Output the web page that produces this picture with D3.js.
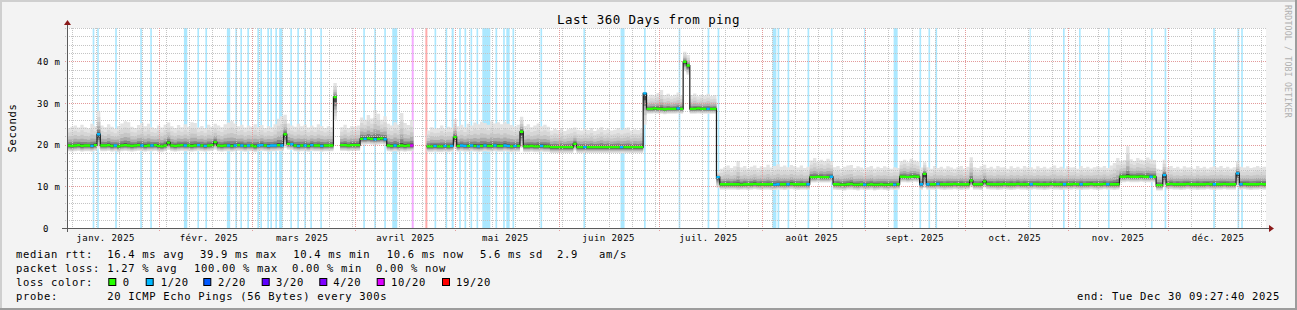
<!DOCTYPE html>
<html><head><meta charset="utf-8">
<script src="https://cdn.jsdelivr.net/npm/d3@7"></script>
<style>
html,body{margin:0;padding:0;background:#f3f3f3;}
svg{display:block;}
text{font-family:"DejaVu Sans Mono",monospace;white-space:pre;}
</style></head><body>
<svg id="c" width="1297" height="310"></svg>
<script>
// ---------------- data ----------------
const chartTitle = "Last 360 Days from ping";
const yLabel = "Seconds";
const sideNote = "RRDTOOL / TOBI OETIKER";
const endTime = Date.UTC(2025, 11, 30, 9, 27, 40);
const spanDays = 360;

// daily median RTT (ms), one value per day from the start of the window
const median = [
19.8,19.7,19.8,19.9,19.7,19.8,19.8,19.7,19.9,22.5,
19.8,19.8,19.9,19.7,19.8,19.6,19.8,19.9,19.8,19.7,
19.8,19.9,19.8,19.7,19.8,19.8,19.9,19.7,19.6,19.8,
20.5,19.8,19.7,19.8,19.9,19.8,19.8,19.7,19.8,19.9,
19.8,19.7,19.8,19.9,20.6,19.8,19.7,19.8,19.8,19.7,
19.8,19.9,19.8,19.7,19.8,19.8,19.6,19.8,19.9,19.8,
19.7,19.8,19.8,19.9,19.8,22.5,20.2,20.1,19.8,19.7,
19.8,19.8,19.7,19.9,19.8,19.8,19.7,19.8,19.8,19.8,
31.4,null,19.9,19.9,19.8,19.9,19.9,19.9,21.4,21.4,
21.5,21.4,21.3,21.4,21.5,21.3,19.8,19.7,19.8,19.7,
19.8,19.7,19.8,19.8,null,null,null,null,19.6,19.6,
19.7,19.6,19.6,19.7,19.6,19.7,21.8,19.7,19.8,19.7,
19.7,19.8,19.7,19.6,19.7,19.8,19.7,19.7,19.8,19.7,
19.7,19.8,19.7,19.6,19.7,19.7,23.1,19.6,19.6,19.7,
19.6,19.6,19.7,19.6,19.6,19.4,19.4,19.4,19.4,19.4,
19.4,19.4,20.2,19.4,19.4,19.4,19.4,19.4,19.4,19.4,
19.4,19.4,19.4,19.4,19.4,19.4,19.4,19.4,19.4,19.4,
19.4,19.4,19.4,32.3,28.6,28.6,28.7,28.6,28.6,28.5,
28.6,28.6,28.6,28.7,28.6,39.9,39.0,28.6,28.6,28.7,
28.6,28.6,28.6,28.6,28.6,12.2,10.5,10.5,10.5,10.5,
10.5,10.5,10.4,10.5,10.5,10.5,10.6,10.5,10.5,10.5,
10.5,10.5,10.4,10.5,10.5,10.5,10.5,10.6,10.5,10.5,
10.5,10.5,10.5,12.2,12.2,12.3,12.2,12.2,12.2,12.3,
10.5,10.5,10.4,10.4,10.5,10.6,10.4,10.4,10.5,10.4,
10.4,10.5,10.4,10.4,10.5,10.4,10.4,10.5,10.4,10.5,
12.3,12.3,12.2,12.3,12.4,12.3,10.5,13.0,10.5,10.5,
10.5,10.6,10.5,10.5,10.5,10.5,10.6,10.5,10.5,10.5,
10.5,11.4,10.5,10.5,10.5,11.2,10.6,10.5,10.5,10.5,
10.5,10.6,10.5,10.5,10.5,10.6,10.5,10.5,10.5,10.5,
10.6,10.5,10.5,10.5,10.5,10.6,10.5,10.5,10.5,10.5,
10.5,10.5,10.6,10.5,10.5,10.5,10.5,10.6,10.5,10.5,
10.5,10.6,10.5,10.5,10.5,10.5,12.3,12.3,12.4,12.3,
12.3,12.3,12.4,12.3,12.3,12.3,12.3,10.3,10.3,12.7,
10.5,10.6,10.5,10.5,10.5,10.5,10.6,10.5,10.5,10.5,
10.5,10.5,10.6,10.5,10.5,10.5,10.5,10.6,10.5,10.5,
10.5,13.1,10.5,10.6,10.5,10.5,10.5,10.5,10.6,10.5];

// daily slowest ping (top of the smoke, ms)
const smokeMax = [
24.0,24.3,24.6,24.1,24.8,24.2,23.9,25.0,24.4,28.1,
24.6,24.2,24.9,24.3,23.8,24.5,25.1,25.6,25.4,24.3,
24.0,24.7,25.2,24.4,25.0,24.2,23.9,24.6,24.1,24.8,
25.3,24.4,24.0,24.7,24.2,24.9,24.3,25.4,25.2,24.1,
24.5,24.0,24.8,24.3,25.0,24.6,24.2,24.9,25.3,25.7,
25.1,24.4,24.8,24.1,24.6,24.3,24.9,24.2,24.7,24.0,
24.5,24.2,24.9,26.2,26.8,27.2,25.1,24.6,24.3,25.0,
24.4,24.8,24.1,24.6,24.2,24.9,24.5,24.0,24.4,24.2,
34.8,null,24.2,24.8,24.0,24.5,24.3,24.6,26.5,26.0,
27.1,26.3,28.3,27.4,26.0,26.8,25.0,24.6,25.4,24.8,
27.6,25.2,24.7,25.9,null,null,null,null,23.4,24.2,
23.8,24.0,24.6,23.9,24.3,24.1,26.1,24.4,24.8,24.2,
25.0,24.6,25.3,24.9,25.5,25.2,24.8,25.6,25.1,25.4,
24.9,25.5,25.0,24.7,24.3,24.8,26.7,24.5,24.9,24.2,
24.6,25.1,24.4,24.8,24.3,23.4,23.8,23.5,24.0,23.3,
23.7,23.9,24.1,23.6,23.4,23.8,23.5,24.0,23.3,23.7,
24.2,23.5,23.9,23.4,23.6,24.0,23.5,23.8,24.1,23.4,
23.7,23.5,23.9,32.6,31.6,32.0,31.8,32.4,33.1,31.9,
32.2,31.7,32.0,32.5,31.8,42.3,41.5,31.9,32.3,31.6,
32.0,31.8,32.2,31.7,31.9,13.4,14.2,14.6,15.0,14.4,
14.8,16.1,14.5,14.9,14.3,14.7,15.0,14.4,14.8,14.6,
15.2,14.5,14.9,15.3,14.7,15.0,14.6,15.1,14.8,14.5,
15.0,14.4,14.7,16.2,16.8,15.9,16.4,16.0,16.6,16.1,
14.6,14.9,14.3,14.7,15.0,15.1,14.4,14.8,14.5,14.2,
14.6,14.9,14.3,14.7,14.4,14.8,14.5,14.2,14.6,14.4,
16.0,16.4,15.8,16.6,16.2,15.9,14.5,15.8,14.6,14.2,
14.9,14.4,14.7,14.3,14.8,14.5,14.2,14.6,14.9,14.3,
14.7,17.0,14.6,14.4,14.8,15.2,14.4,14.7,14.3,14.9,
14.5,14.6,14.2,14.8,14.4,14.7,14.3,14.9,14.5,14.6,
14.2,14.8,14.4,14.7,14.3,14.6,15.0,14.4,14.7,14.3,
14.8,14.5,14.6,14.2,14.9,14.4,14.7,14.3,14.6,14.8,
14.5,14.9,14.4,15.0,15.6,16.8,16.0,16.3,19.6,16.5,
16.1,16.8,16.4,16.2,16.9,16.5,16.3,14.2,14.0,16.4,
14.6,14.9,14.4,14.7,14.3,14.8,14.5,14.6,14.2,14.9,
14.4,14.7,14.3,14.6,14.8,14.5,14.9,14.4,14.7,14.3,
14.6,16.0,14.7,14.5,14.8,14.4,14.6,14.9,14.5,14.7];

// daily fastest ping (bottom of the smoke, ms)
const smokeMin = [
18.4,18.3,18.4,18.5,18.3,18.4,18.4,18.3,18.5,19.0,
18.4,18.4,18.5,18.3,18.4,18.2,18.4,18.5,18.4,18.3,
18.4,18.5,18.4,18.3,18.4,18.4,18.5,18.3,18.2,18.4,
18.7,18.4,18.3,18.4,18.5,18.4,18.4,18.3,18.4,18.5,
18.4,18.3,18.4,18.5,18.8,18.4,18.3,18.4,18.4,18.3,
18.4,18.5,18.4,18.3,18.4,18.4,18.2,18.4,18.5,18.4,
18.3,18.4,18.4,18.5,18.4,19.2,18.8,18.7,18.4,18.3,
18.4,18.4,18.3,18.5,18.4,18.4,18.3,18.4,18.4,18.4,
26.0,null,18.5,18.5,18.4,18.5,18.5,18.5,20.0,20.0,
20.1,20.0,19.9,20.0,20.1,19.9,18.4,18.3,18.4,18.3,
18.4,18.3,18.4,18.4,null,null,null,null,18.2,18.2,
18.3,18.2,18.2,18.3,18.2,18.3,19.0,18.3,18.4,18.3,
18.3,18.4,18.3,18.2,18.3,18.4,18.3,18.3,18.4,18.3,
18.3,18.4,18.3,18.2,18.3,18.3,19.2,18.2,18.2,18.3,
18.2,18.2,18.3,18.2,18.2,18.0,18.0,18.0,18.0,18.0,
18.0,18.0,18.6,18.0,18.0,18.0,18.0,18.0,18.0,18.0,
18.0,18.0,18.0,18.0,18.0,18.0,18.0,18.0,18.0,18.0,
18.0,18.0,18.0,24.8,27.4,27.4,27.5,27.4,27.4,27.3,
27.4,27.4,27.4,27.5,27.4,37.6,36.8,27.4,27.4,27.5,
27.4,27.4,27.4,27.4,27.4,9.6,9.2,9.2,9.2,9.2,
9.2,9.1,9.2,9.2,9.1,9.2,9.3,9.2,9.1,9.2,
9.2,9.1,9.1,9.2,9.2,9.1,9.2,9.3,9.2,9.1,
9.2,9.2,9.1,10.9,10.9,11.0,10.9,10.9,10.9,11.0,
9.2,9.1,9.1,9.0,9.2,9.2,9.1,9.0,9.2,9.1,
9.1,9.2,9.0,9.1,9.2,9.1,9.0,9.2,9.1,9.2,
11.0,11.0,10.9,11.0,11.1,11.0,9.2,9.6,9.2,9.2,
9.2,9.3,9.2,9.1,9.2,9.2,9.3,9.2,9.1,9.2,
9.2,9.8,9.2,9.2,9.1,9.7,9.3,9.2,9.2,9.1,
9.2,9.3,9.2,9.1,9.2,9.3,9.2,9.2,9.1,9.2,
9.3,9.2,9.2,9.1,9.2,9.3,9.2,9.2,9.1,9.2,
9.2,9.2,9.3,9.2,9.1,9.2,9.2,9.3,9.2,9.1,
9.2,9.3,9.2,9.2,9.1,9.2,11.0,11.0,11.1,11.0,
11.0,11.0,11.1,11.0,11.0,11.0,11.0,9.0,9.0,9.8,
9.2,9.3,9.2,9.2,9.1,9.2,9.3,9.2,9.2,9.1,
9.2,9.2,9.3,9.2,9.1,9.2,9.2,9.3,9.2,9.2,
9.2,9.9,9.2,9.3,9.2,9.1,9.2,9.2,9.3,9.2];

// packet-loss periods: centre (days from window start), length (days), lost pings of 20
const lossDay   = [7.96,9.31,14.72,22.24,25.24,35.6,39.4,41.8,48.5,50.8,52.3,54.4,57.4,58.3,60.4,61.3,62.8,64.2,67.3,69.4,71.5,73.3,76.3,
                   89.2,92.5,95.5,98.4,103.8,107.9,110.6,113.9,115.8,118.0,119.6,121.4,123.2,125.9,128.9,131.2,132.4,134.0,142.4,155.3,166.8,173.5,
                   183.9,192.6,195.6,212.4,213.6,216.6,222.6,229.6,239.5,248.8,256.2,258.9,261.0,289.2,299.3,304.1,312.8,325.7,329.8,344.4,351.7,352.8];
const lossSpan  = [0.5,0.5,0.5,0.5,0.5,1.0,0.5,0.5,1.0,0.5,0.5,0.5,0.5,0.5,0.5,0.5,0.5,1.0,0.5,0.5,0.5,0.5,0.5,
                   0.5,0.5,0.5,1.5,0.6,0.6,0.5,0.5,0.6,0.5,0.5,0.5,0.5,2.4,0.5,0.5,1.0,0.5,0.5,0.5,1.2,0.5,
                   0.5,0.5,0.5,1.2,0.5,0.5,0.5,0.5,0.3,1.2,0.5,0.5,0.5,0.3,0.5,0.5,0.5,0.5,0.5,0.5,0.5,0.5];
const lossLevel = [1,1,1,1,1,1,1,1,1,1,1,1,1,1,1,1,1,1,1,1,1,1,1,
                   1,1,1,1,10,19,1,1,1,1,1,1,1,1,1,1,1,1,1,1,1,1,
                   1,1,1,1,1,1,1,1,1,1,1,1,1,1,1,1,1,1,1,1,1,1];

const yTicks = [0, 10, 20, 30, 40];
const yMax = 48;
const monthLabels = ["janv. 2025","févr. 2025","mars 2025","avril 2025","mai 2025","juin 2025",
                     "juil. 2025","août 2025","sept. 2025","oct. 2025","nov. 2025","déc. 2025"];
const legendRtt  = ["median rtt:", "16.4 ms avg", "39.9 ms max", "10.4 ms min", "10.6 ms now", "5.6 ms sd  2.9   am/s"];
const legendLoss = ["packet loss:", "1.27 % avg", "100.00 % max  0.00 % min  0.00 % now"];
const lossLabels = ["0", "1/20", "2/20", "3/20", "4/20", "10/20", "19/20"];
const lossLevels = [0, 1, 2, 3, 4, 10, 19];
const lossColors = ["#26ff00", "#00b8ff", "#0059ff", "#5e00ff", "#7e00ff", "#dd00ff", "#ff0000"];
const probeText = ["probe:", "20 ICMP Echo Pings (56 Bytes) every 300s"];
const endText = "end: Tue Dec 30 09:27:40 2025";

// ---------------- drawing ----------------
if (median.length !== spanDays || smokeMax.length !== spanDays || smokeMin.length !== spanDays)
  throw new Error("length " + median.length + " " + smokeMax.length + " " + smokeMin.length);

const W = 1297, H = 310;
const L = 67, R = 1266, T = 28, B = 228;
const DAY = 86400000;
const startTime = endTime - spanDays * DAY;
const svg = d3.select("#c");

const x = d3.scaleUtc().domain([startTime, endTime]).range([L, R]);
const y = d3.scaleLinear().domain([0, yMax]).range([B, T]);
const xd = d => x(startTime + d * DAY);

// frame
svg.append("rect").attr("width", W).attr("height", H).attr("fill", "#f3f3f3");
svg.append("rect").attr("x", 0).attr("y", 0).attr("width", W).attr("height", 2).attr("fill", "#cfcfcf");
svg.append("rect").attr("x", 0).attr("y", 0).attr("width", 2).attr("height", H).attr("fill", "#cfcfcf");
svg.append("rect").attr("x", 0).attr("y", H - 2).attr("width", W).attr("height", 2).attr("fill", "#9c9c9c");
svg.append("rect").attr("x", W - 2).attr("y", 0).attr("width", 2).attr("height", H).attr("fill", "#9c9c9c");

// plot background
svg.append("rect").attr("x", L).attr("y", T).attr("width", R - L).attr("height", B - T).attr("fill", "#ffffff");

// loss stripes
const stripes = lossDay.map((d, i) => ({ d, s: lossSpan[i], lv: lossLevel[i] }));
svg.append("g").selectAll("rect").data(stripes).join("rect")
  .attr("x", s => xd(s.d - s.s / 2))
  .attr("width", s => Math.max(1, xd(s.d + s.s / 2) - xd(s.d - s.s / 2)))
  .attr("y", T).attr("height", B - T)
  .attr("fill", s => lossColors[lossLevels.indexOf(s.lv)])
  .attr("opacity", 0.33);

// expanded step points
const pts = [];
for (let i = 0; i < spanDays; i++) { pts.push({ i, e: 0 }); pts.push({ i, e: 1 }); }
const px = p => xd(p.i + p.e);
const def = p => median[p.i] != null;

const layers = [
  [1.00, 1.00, "#e3e3e3"],
  [0.74, 0.85, "#d6d6d6"],
  [0.52, 0.70, "#c6c6c6"],
  [0.34, 0.55, "#acacac"],
  [0.19, 0.40, "#838383"],
  [0.08, 0.22, "#4a4a4a"]
];
const gSmoke = svg.append("g");
layers.forEach(([fu, fl, col]) => {
  const area = d3.area().defined(def).x(px)
    .y0(p => y(median[p.i] - fl * (median[p.i] - smokeMin[p.i])))
    .y1(p => y(median[p.i] + fu * (smokeMax[p.i] - median[p.i])));
  gSmoke.append("path").attr("d", area(pts)).attr("fill", col);
});

// grid (drawn over the smoke, like rrdtool)
const gGrid = svg.append("g").attr("shape-rendering", "crispEdges");
const minorY = d3.range(2, yMax + 0.1, 2).filter(v => v % 10 !== 0);
gGrid.selectAll(".hm").data(minorY).join("line")
  .attr("x1", L - 2).attr("x2", R).attr("y1", v => Math.round(y(v)) + 0.5).attr("y2", v => Math.round(y(v)) + 0.5)
  .attr("stroke", "#c4c4c4").attr("stroke-dasharray", "1,1");
const weeks = d3.utcMonday.range(new Date(startTime), new Date(endTime));
gGrid.selectAll(".vm").data(weeks).join("line")
  .attr("y1", T).attr("y2", B + 2).attr("x1", d => Math.round(x(d)) + 0.5).attr("x2", d => Math.round(x(d)) + 0.5)
  .attr("stroke", "#c4c4c4").attr("stroke-dasharray", "1,1");
gGrid.selectAll(".hM").data(yTicks.filter(v => v > 0)).join("line")
  .attr("x1", L - 2).attr("x2", R).attr("y1", v => Math.round(y(v)) + 0.5).attr("y2", v => Math.round(y(v)) + 0.5)
  .attr("stroke", "#e39a9a").attr("stroke-dasharray", "1,1");
const months = d3.utcMonth.range(new Date(startTime), new Date(endTime));
gGrid.selectAll(".vM").data(months).join("line")
  .attr("y1", T).attr("y2", B + 3).attr("x1", d => Math.round(x(d)) + 0.5).attr("x2", d => Math.round(x(d)) + 0.5)
  .attr("stroke", "#e39a9a").attr("stroke-dasharray", "1,1");

// median line (black, with the vertical jumps) and loss coloured median (horizontal only)
const dayLoss = new Array(spanDays).fill(0);
stripes.forEach(s => { const k = Math.floor(s.d); if (k >= 0 && k < spanDays) dayLoss[k] = Math.max(dayLoss[k], s.lv); });
const medLine = d3.line().defined(def).x(px).y(p => y(median[p.i]));
svg.append("path").attr("d", medLine(pts)).attr("fill", "none").attr("stroke", "#1c1c1c").attr("stroke-width", 1.2);
const gMed = svg.append("g");
lossLevels.forEach((lv, k) => {
  const days = d3.range(spanDays).filter(i => median[i] != null && dayLoss[i] === lv);
  gMed.append("path")
    .attr("d", days.map(i => `M${xd(i)},${y(median[i])}H${xd(i + 1)}`).join(""))
    .attr("fill", "none").attr("stroke", lossColors[k]).attr("stroke-width", 2.4);
});

// axes
const axisCol = "#5a5a5a";
svg.append("line").attr("x1", L - 5).attr("x2", R + 3).attr("y1", B + 0.5).attr("y2", B + 0.5).attr("stroke", axisCol);
svg.append("line").attr("x1", L + 0.5).attr("x2", L + 0.5).attr("y1", B + 4).attr("y2", T - 4).attr("stroke", axisCol);
svg.append("path").attr("d", `M${L - 3},${T - 3} L${L + 0.5},${T - 8} L${L + 4},${T - 3} Z`).attr("fill", "#8b1a1a");
svg.append("path").attr("d", `M${R + 3},${B - 3} L${R + 8},${B + 0.5} L${R + 3},${B + 4} Z`).attr("fill", "#8b1a1a");

// y labels
const gy = svg.append("g").attr("font-size", "9px").attr("letter-spacing", "0.6px").attr("fill", "#000");
yTicks.forEach(v => {
  gy.append("text").attr("x", 49).attr("y", y(v) + 3.5).attr("text-anchor", "end").text(String(v));
  if (v !== 0) gy.append("text").attr("x", 54.6).attr("y", y(v) + 3.5).text("m");
});

// month labels (rrdtool centres them 15 days after the month start)
const gx = svg.append("g").attr("font-size", "9px").attr("letter-spacing", "0.42px").attr("fill", "#000");
const labelMonths = d3.utcMonth.range(new Date(Date.UTC(2025, 0, 1)), new Date(Date.UTC(2026, 0, 1)));
labelMonths.forEach((m, i) => {
  const t = +m + 15 * DAY;
  if (t < startTime || t > endTime) return;
  gx.append("text").attr("x", x(t)).attr("y", 241).attr("text-anchor", "middle").text(monthLabels[i]);
});

// title
svg.append("text").attr("x", 648.5).attr("y", 24).attr("text-anchor", "middle")
  .attr("font-size", "12.5px").attr("letter-spacing", "0.43px").text(chartTitle);

// y axis title
svg.append("text").attr("transform", "translate(15.5,128) rotate(-90)").attr("text-anchor", "middle")
  .attr("font-size", "10.5px").attr("letter-spacing", "0.68px").text(yLabel);

// side note
svg.append("text").attr("transform", "translate(1284.5,5) rotate(90)")
  .attr("font-size", "8.2px").attr("letter-spacing", "0.2px").attr("fill", "#b0b0b0").text(sideNote);

// legend
const gl = svg.append("g").attr("font-size", "10.5px").attr("letter-spacing", "0.68px").attr("fill", "#000");
const rttX = [16, 107.3, 200, 293.3, 386.7, 480];
legendRtt.forEach((s, i) => gl.append("text").attr("x", rttX[i]).attr("y", 257.7).text(s));
const lossX = [16, 107.3, 194];
legendLoss.forEach((s, i) => gl.append("text").attr("x", lossX[i]).attr("y", 271.7).text(s));
gl.append("text").attr("x", 16).attr("y", 285.7).text("loss color:");
const boxX = [108.3, 145.7, 203.3, 261.7, 319.3, 376.7, 442];
const labX = [122.7, 160.7, 218, 276, 333.3, 391, 456];
lossLabels.forEach((s, i) => {
  gl.append("rect").attr("x", boxX[i] + 0.5).attr("y", 278.5).attr("width", 7).attr("height", 7)
    .attr("fill", lossColors[i]).attr("stroke", "#000").attr("stroke-width", 1);
  gl.append("text").attr("x", labX[i]).attr("y", 285.7).text(s);
});
gl.append("text").attr("x", 16).attr("y", 299.5).text(probeText[0]);
gl.append("text").attr("x", 107.3).attr("y", 299.5).text(probeText[1]);
gl.append("text").attr("x", 1280).attr("y", 299.5).attr("text-anchor", "end").text(endText);
</script>
</body></html>
